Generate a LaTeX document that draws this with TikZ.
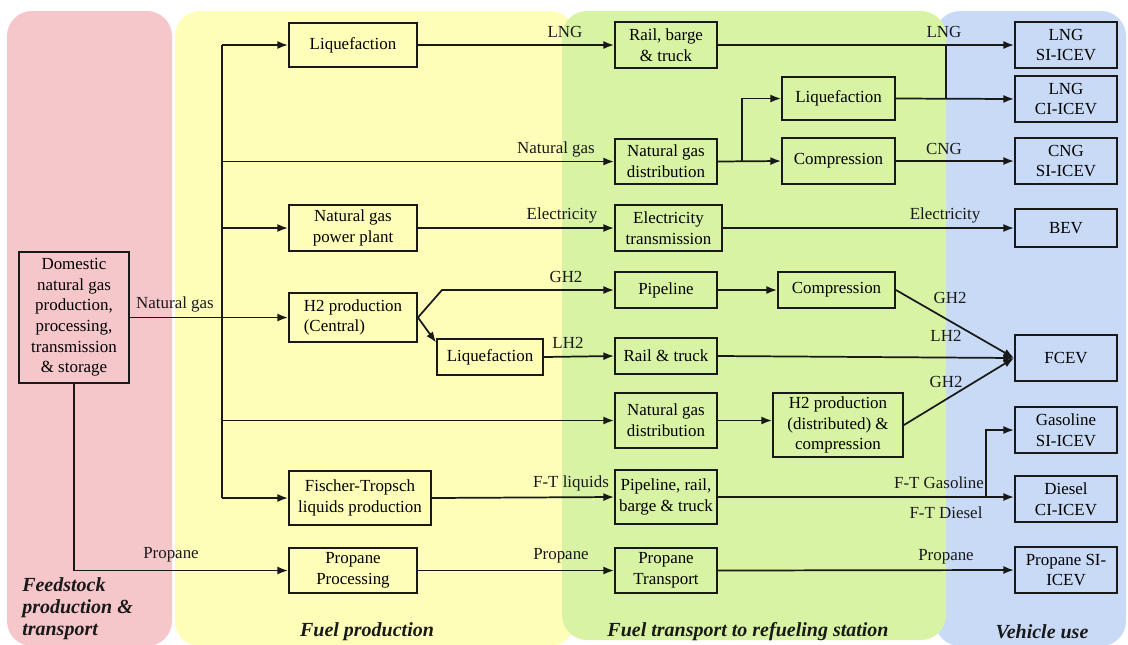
\documentclass[tikz,border=0pt]{standalone}
\usepackage{fontspec}
\setmainfont{Liberation Serif}
\usetikzlibrary{arrows.meta,calc}

\definecolor{feedpink}{HTML}{F5C7CB}
\definecolor{prodyellow}{HTML}{FFFEB9}
\definecolor{transgreen}{HTML}{D8F3A4}
\definecolor{usebblue}{HTML}{C9DAF6}

\newdimen\pxu
\pxu=0.75pt

\tikzset{
	box/.style={draw=black!90, line width=1.4pt, align=center, inner sep=1pt,
		font=\fontsize{12.7}{15.5}\selectfont},
	flow/.style={line width=1.3pt, draw=black!90},
	arr/.style={flow, -{Latex[length=8pt,width=6pt]}},
	lbl/.style={inner sep=0pt, text=black!90, font=\fontsize{12.7}{15.5}\selectfont},
	zone/.style={inner sep=0pt, text=black!90, font=\fontsize{15}{16.5}\selectfont\bfseries\itshape},
	zonefill/.style={rounded corners=25\pxu, draw=none},
}

\begin{document}
\begin{tikzpicture}[x=0.75pt, y=-0.75pt]
			%%%%% START %%%%%
			\useasboundingbox (0,0) rectangle (1128,644);
			
			% stage backgrounds
			\fill[zonefill, feedpink] (7,11) rectangle (172,646);
			\fill[zonefill, prodyellow] (175,11) rectangle (575,646);
			\fill[zonefill, usebblue] (935,11) rectangle (1126,646);
			\fill[zonefill, transgreen] (562,11) rectangle (946,640);
			
			% feedstock
			\node[box, minimum width=110\pxu, minimum height=131\pxu] (src) at (74,317.5) {Domestic\\natural gas\\production,\\processing,\\transmission\\\& storage};
			
			% fuel production
			\node[box, minimum width=128\pxu, minimum height=44\pxu] (liqA) at (353,45) {Liquefaction};
			\node[box, minimum width=128\pxu, minimum height=46\pxu] (ngpp) at (353,228) {Natural gas\\power plant};
			\node[box, minimum width=128\pxu, minimum height=49\pxu, align=left] (hcen) at (353,317.5) {H2 production\\(Central)};
			\node[box, minimum width=106\pxu, minimum height=36\pxu] (liqB) at (490,357) {Liquefaction};
			\node[box, minimum width=142\pxu, minimum height=54\pxu] (ftl) at (360,498) {Fischer-Tropsch\\liquids production};
			\node[box, minimum width=128\pxu, minimum height=45\pxu] (propp) at (353,570.5) {Propane\\Processing};
			
			% fuel transport
			\node[box, minimum width=102\pxu, minimum height=46\pxu] (rbt) at (666,45) {Rail, barge\\\& truck};
			\node[box, minimum width=102\pxu, minimum height=45\pxu] (ngdA) at (666,161.5) {Natural gas\\distribution};
			\node[box, minimum width=107\pxu, minimum height=46\pxu] (eltr) at (668.5,228) {Electricity\\transmission};
			\node[box, minimum width=102\pxu, minimum height=36\pxu] (pipe) at (666,290) {Pipeline};
			\node[box, minimum width=102\pxu, minimum height=36\pxu] (rtr) at (666,356) {Rail \& truck};
			\node[box, minimum width=102\pxu, minimum height=55\pxu] (ngdB) at (666,420.5) {Natural gas\\distribution};
			\node[box, minimum width=102\pxu, minimum height=54\pxu] (prbt) at (666,497) {Pipeline, rail,\\barge \& truck};
			\node[box, minimum width=102\pxu, minimum height=45\pxu] (prtr) at (666,570.5) {Propane\\Transport};
			
			\node[box, minimum width=113\pxu, minimum height=43\pxu] (liqC) at (838.5,98.5) {Liquefaction};
			\node[box, minimum width=113\pxu, minimum height=46\pxu] (compA) at (838.5,161) {Compression};
			\node[box, minimum width=117\pxu, minimum height=36\pxu] (compB) at (836.5,290) {Compression};
			\node[box, minimum width=130\pxu, minimum height=64\pxu] (hdis) at (838,425) {H2 production\\(distributed) \&\\compression};
			
			% vehicles
			\node[box, minimum width=102\pxu, minimum height=46\pxu] (lngsi) at (1066,45) {LNG\\SI-ICEV};
			\node[box, minimum width=102\pxu, minimum height=46\pxu] (lngci) at (1066,99) {LNG\\CI-ICEV};
			\node[box, minimum width=102\pxu, minimum height=46\pxu] (cngsi) at (1066,161) {CNG\\SI-ICEV};
			\node[box, minimum width=102\pxu, minimum height=38\pxu] (bev) at (1066,228) {BEV};
			\node[box, minimum width=102\pxu, minimum height=46\pxu] (fcev) at (1066,358) {FCEV};
			\node[box, minimum width=102\pxu, minimum height=46\pxu] (gassi) at (1066,430) {Gasoline\\SI-ICEV};
			\node[box, minimum width=102\pxu, minimum height=46\pxu] (dieci) at (1066,499) {Diesel\\CI-ICEV};
			\node[box, minimum width=102\pxu, minimum height=46\pxu] (propsi) at (1066,570) {Propane SI-\\ICEV};
			
			% joints
			\coordinate (bustop) at (222,45);
			\coordinate (busbot) at (222,498);
			\coordinate (hknee) at (442,290);
			\coordinate (ngsplit) at (742,161.5);
			\coordinate (lngj) at (946,45);
			\coordinate (ftsplit) at (986,497);
			
			% feedstock to fuel production
			\draw[flow] (bustop) -- (busbot);
			\draw[arr] (src.east) -- (hcen.west);
			\draw[arr] (bustop) -- (liqA.west);
			\draw[arr] (bustop |- ngpp.west) -- (ngpp.west);
			\draw[arr] (bustop |- ngdA.west) -- (ngdA.west);
			\draw[arr] (bustop |- ngdB.west) -- (ngdB.west);
			\draw[arr] (busbot) -- (ftl.west);
			\draw[arr] (src.south) |- (propp.west);
			
			% fuel production to transport
			\draw[arr] (liqA.east) -- (rbt.west);
			\draw[arr] (ngpp.east) -- (eltr.west);
			\draw[arr] (hcen.east) -- (hknee) -- (pipe.west);
			\draw[arr] (hcen.east) -- (liqB.165);
			\draw[arr] (liqB.east) -- (rtr.west);
			\draw[arr] (ftl.east) -- (prbt.west);
			\draw[arr] (propp.east) -- (prtr.west);
			
			% within transport
			\draw[arr] (ngdA.east) -- (compA.west);
			\draw[arr] (ngsplit) |- (liqC.west);
			\draw[arr] (pipe.east) -- (compB.west);
			\draw[arr] (ngdB.east) -- (ngdB.east -| hdis.west);
			
			% transport to vehicles
			\draw[arr] (rbt.east) -- (lngsi.west);
			\draw[flow] (lngj) -- (lngj |- liqC.east);
			\draw[arr] (liqC.east) -- (lngci.west);
			\draw[arr] (compA.east) -- (cngsi.west);
			\draw[arr] (eltr.east) -- (bev.west);
			\draw[arr] (compB.east) -- (fcev.west);
			\draw[arr] (rtr.east) -- (fcev.west);
			\draw[arr] (hdis.east) -- (fcev.west);
			\draw[arr] (prbt.east) -- (prbt.east -| dieci.west);
			\draw[arr] (ftsplit) |- (gassi.west);
			\draw[arr] (prtr.east) -- (propsi.west);
			
			% flow labels
			\node[lbl] (tNatA) at (175,304) {Natural gas};
			\node[lbl] (tPropA) at (171,555) {Propane};
			\node[lbl] (tLngA) at (565,32) {LNG};
			\node[lbl] (tNatB) at (556,149) {Natural gas};
			\node[lbl] (tElA) at (562,215) {Electricity};
			\node[lbl] (tGhA) at (566,277) {GH2};
			\node[lbl] (tLhA) at (568,343) {LH2};
			\node[lbl] (tFtl) at (571,483) {F-T liquids};
			\node[lbl] (tPropB) at (561,556) {Propane};
			\node[lbl] (tLngB) at (944,32) {LNG};
			\node[lbl] (tCng) at (944,149) {CNG};
			\node[lbl] (tElB) at (945,215) {Electricity};
			\node[lbl] (tGhB) at (950,298) {GH2};
			\node[lbl] (tLhB) at (946,336) {LH2};
			\node[lbl] (tGhC) at (946,382) {GH2};
			\node[lbl] (tFtg) at (939,483) {F-T Gasoline};
			\node[lbl] (tFtd) at (946,513) {F-T Diesel};
			\node[lbl] (tPropC) at (946,557) {Propane};
			
			% stage names
			\node[zone, align=left, anchor=north west] (zFeed) at (22,577) {Feedstock\\production \&\\transport};
			\node[zone] (zProd) at (367,632) {Fuel production};
			\node[zone] (zTrans) at (748,632) {Fuel transport to refueling station};
			\node[zone] (zUse) at (1042,632) {Vehicle use};
			
			%%%%% END %%%%%
\end{tikzpicture}
\end{document}
